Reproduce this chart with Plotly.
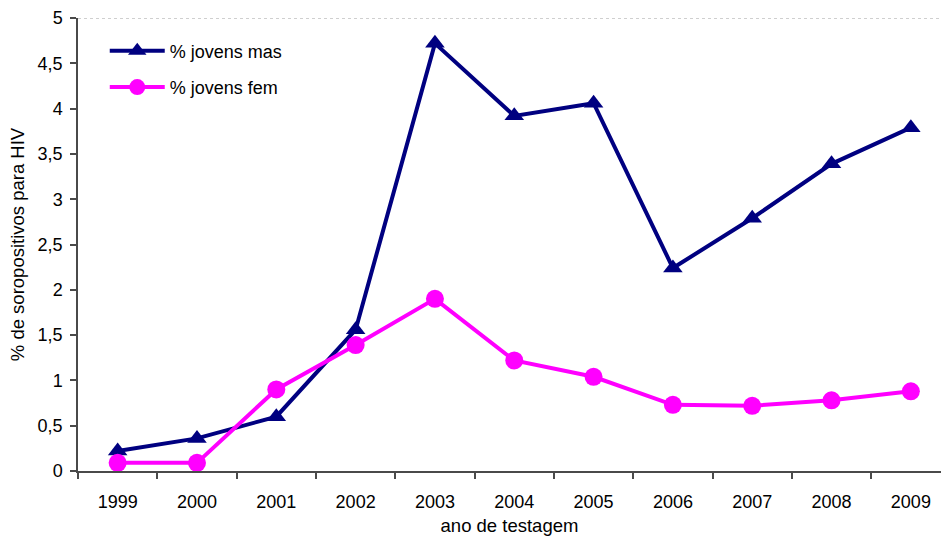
import plotly.graph_objects as go

anos = ["1999", "2000", "2001", "2002", "2003", "2004", "2005", "2006", "2007", "2008", "2009"]
jovens_mas = [0.22, 0.36, 0.60, 1.56, 4.72, 3.92, 4.06, 2.24, 2.79, 3.39, 3.79]
jovens_fem = [0.09, 0.09, 0.90, 1.39, 1.90, 1.22, 1.04, 0.73, 0.72, 0.78, 0.88]
y_ticks = [0, 0.5, 1, 1.5, 2, 2.5, 3, 3.5, 4, 4.5, 5]
y_labels = ["0", "0,5", "1", "1,5", "2", "2,5", "3", "3,5", "4", "4,5", "5"]

NAVY = "#000080"
MAGENTA = "#FF00FF"
AXIS = "#4a4a4a"
FONT = "Liberation Sans, Arial, sans-serif"

fig = go.Figure()
fig.add_trace(go.Scatter(
    x=anos, y=jovens_mas, name="% jovens mas", mode="lines+markers",
    line=dict(color=NAVY, width=4),
    marker=dict(symbol="triangle-up", size=17, color=NAVY),
    legendgroup="mas",
))
fig.add_trace(go.Scatter(
    x=anos, y=jovens_fem, name="% jovens fem", mode="lines+markers",
    line=dict(color=MAGENTA, width=4),
    marker=dict(symbol="circle", size=18, color=MAGENTA),
    legendgroup="fem",
))

# dotted line along the top of the plotting area
fig.add_shape(type="line", xref="paper", yref="y", x0=0, x1=1, y0=5, y1=5,
              line=dict(color="#a0a0a0", width=1, dash="dot"))

fig.update_layout(
    width=941, height=536,
    margin=dict(l=78, r=0, t=18, b=65),
    paper_bgcolor="white", plot_bgcolor="white",
    font=dict(family=FONT, size=18, color="black"),
    showlegend=True,
    legend=dict(
        x=0.031, y=0.968, xanchor="left", yanchor="top",
        font=dict(size=18), bgcolor="rgba(0,0,0,0)",
        traceorder="grouped", tracegroupgap=10, itemwidth=55,
    ),
    xaxis=dict(
        type="category", range=[-0.5, 10.38],
        showline=True, linecolor=AXIS, linewidth=1.5,
        ticks="outside", tickson="boundaries", ticklen=6, tickcolor=AXIS, tickwidth=1.5,
        showgrid=False, zeroline=False,
        ticklabelstandoff=14,
        title=dict(text="ano de testagem", font=dict(size=18.5), standoff=9),
    ),
    yaxis=dict(
        range=[0, 5], tickvals=y_ticks, ticktext=y_labels,
        showline=True, linecolor=AXIS, linewidth=1.5,
        ticks="outside", ticklen=6, tickcolor=AXIS, tickwidth=1.5,
        showgrid=False, zeroline=False,
        ticklabelstandoff=4,
        title=dict(text="% de soropositivos para HIV", font=dict(size=18.5), standoff=8),
    ),
)

fig.write_html("out.html")
